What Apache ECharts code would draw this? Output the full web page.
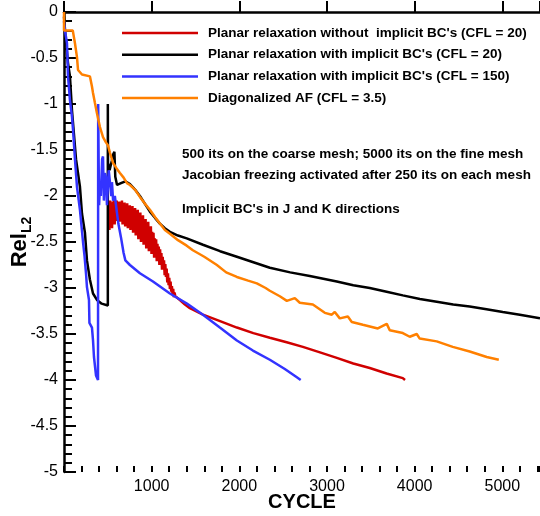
<!DOCTYPE html>
<html>
<head>
<meta charset="utf-8">
<script src="https://cdn.jsdelivr.net/npm/echarts@6/dist/echarts.min.js"></script>
<style>
html,body{margin:0;padding:0;background:#fff;}
#chart{width:540px;height:516px;}
</style>
</head>
<body>
<div id="chart"></div>
<script>
// ---- Data (cycle, log10 residual) ----
var seriesNames = [
  "Planar relaxation without  implicit BC's (CFL = 20)",
  "Planar relaxation with implicit BC's (CFL = 20)",
  "Planar relaxation with implicit BC's (CFL = 150)",
  "Diagonalized AF (CFL = 3.5)"
];

var redData = [
  [505,-2.3],[512,-2.15],[518,-2.37],[526,-2.05],[533,-2.3],[541,-2.12],[548,-2.35],[556,-2.06],
  [563,-2.25],[571,-2.04],[578,-2.31],[586,-2.09],[593,-2.2],[601,-2.05],[608,-2.27],[616,-2.07],
  [623,-2.18],[631,-2.06],[638,-2.28],[646,-2.1],[653,-2.2],[661,-2.05],[668,-2.31],[676,-2.11],
  [683,-2.24],[691,-2.07],[698,-2.33],[706,-2.12],[713,-2.26],[721,-2.08],[728,-2.35],[736,-2.14],
  [743,-2.28],[751,-2.1],[758,-2.37],[766,-2.15],[773,-2.3],[781,-2.11],[788,-2.4],[796,-2.17],
  [803,-2.34],[811,-2.13],[818,-2.43],[826,-2.19],[833,-2.38],[841,-2.15],[848,-2.47],[856,-2.22],
  [863,-2.42],[871,-2.18],[878,-2.5],[886,-2.24],[893,-2.45],[901,-2.21],[908,-2.53],[916,-2.27],
  [923,-2.5],[931,-2.25],[938,-2.57],[946,-2.3],[953,-2.52],[961,-2.28],[968,-2.6],[976,-2.34],
  [983,-2.56],[991,-2.33],[998,-2.63],[1006,-2.39],[1013,-2.6],[1021,-2.4],[1028,-2.67],[1036,-2.46],
  [1043,-2.64],[1051,-2.47],[1058,-2.71],[1066,-2.52],[1073,-2.68],[1081,-2.55],[1088,-2.75],[1096,-2.58],
  [1103,-2.73],[1111,-2.62],[1118,-2.8],[1126,-2.66],[1133,-2.79],[1141,-2.7],[1148,-2.86],[1156,-2.74],
  [1163,-2.88],[1171,-2.79],[1178,-2.94],[1186,-2.84],[1193,-2.97],[1201,-2.89],[1208,-3.01],[1216,-2.93],
  [1223,-3.04],[1231,-2.98],[1238,-3.07],[1246,-3.01],[1253,-3.1],[1261,-3.05],[1270,-3.09],
  [1322,-3.13],[1380,-3.18],[1436,-3.22],[1585,-3.29],[1780,-3.36],[1972,-3.43],[2160,-3.49],
  [2348,-3.54],[2540,-3.59],[2725,-3.64],[2920,-3.7],[3112,-3.76],[3300,-3.82],[3488,-3.87],
  [3680,-3.93],[3865,-3.98],[3890,-4.0]
];

var blackData = [
  [0,-0.05],[20,-0.3],[45,-0.55],[68,-0.7],[91,-1.07],[137,-1.6],[182,-1.9],[205,-2.19],
  [239,-2.4],[262,-2.7],[296,-2.91],[331,-3.06],[376,-3.13],[430,-3.17],[500,-3.19],
  [500,-1.0],[502,-1.64],[520,-1.72],[545,-1.62],[560,-1.55],[575,-1.52],[585,-1.79],[605,-1.88],
  [625,-1.9],[650,-1.86],[700,-1.84],[752,-1.87],[810,-1.93],[866,-2.0],[920,-2.08],[980,-2.17],
  [1040,-2.24],[1094,-2.3],[1150,-2.35],[1208,-2.39],[1300,-2.43],[1400,-2.46],[1585,-2.53],
  [1780,-2.6],[1972,-2.66],[2160,-2.72],[2348,-2.78],[2580,-2.83],[2804,-2.87],[3112,-2.93],
  [3300,-2.97],[3488,-3.0],[3680,-3.04],[3865,-3.08],[4060,-3.12],[4252,-3.15],[4440,-3.18],
  [4628,-3.2],[4820,-3.23],[5005,-3.26],[5200,-3.29],[5430,-3.33]
];

var blueData = [
  [0,-0.1],[11,-0.2],[34,-0.34],[46,-0.7],[68,-0.96],[91,-1.14],[103,-1.28],[125,-1.6],
  [148,-1.9],[182,-2.15],[217,-2.5],[235,-2.66],[251,-2.84],[262,-2.99],[285,-3.13],[290,-3.38],
  [319,-3.43],[331,-3.57],[342,-3.75],[365,-3.95],[388,-4.0],
  [390,-1.0],[395,-1.6],[400,-2.1],[410,-1.9],[420,-2.0],[435,-1.6],[445,-1.57],[455,-2.05],
  [467,-1.75],[480,-1.8],[490,-2.1],[510,-1.72],[525,-1.7],[540,-2.0],[547,-1.85],[560,-2.05],
  [580,-2.0],[600,-2.15],[620,-2.3],[650,-2.45],[680,-2.62],[700,-2.7],[752,-2.75],[866,-2.84],
  [1015,-2.93],[1208,-3.06],[1402,-3.17],[1585,-3.29],[1778,-3.43],[1972,-3.57],[2155,-3.68],
  [2348,-3.78],[2519,-3.88],[2656,-3.97],[2700,-4.0]
];

var orangeData = [
  [0,0],[0,-0.2],[100,-0.2],[125,-0.34],[148,-0.49],[160,-0.63],[205,-0.68],[296,-0.7],
  [319,-0.81],[331,-0.88],[353,-0.99],[376,-1.1],[410,-1.25],[445,-1.36],[480,-1.42],[502,-1.45],
  [524,-1.53],[559,-1.64],[600,-1.7],[638,-1.75],[680,-1.8],[718,-1.86],[752,-1.88],[809,-1.93],
  [866,-2.01],[920,-2.08],[980,-2.15],[1040,-2.23],[1094,-2.3],[1151,-2.37],[1208,-2.41],
  [1300,-2.48],[1400,-2.54],[1470,-2.59],[1600,-2.66],[1744,-2.75],[1850,-2.83],[1972,-2.88],
  [2100,-2.92],[2200,-2.95],[2300,-3.0],[2348,-3.03],[2462,-3.09],[2542,-3.14],[2633,-3.11],
  [2690,-3.16],[2839,-3.18],[2975,-3.27],[3055,-3.29],[3089,-3.26],[3146,-3.33],[3238,-3.31],
  [3283,-3.37],[3409,-3.4],[3580,-3.44],[3682,-3.39],[3716,-3.46],[3865,-3.49],[3944,-3.53],
  [4024,-3.5],[4058,-3.55],[4252,-3.58],[4435,-3.64],[4628,-3.69],[4822,-3.75],[4960,-3.78]
];

var xMajorTicks = [1000, 2000, 3000, 4000, 5000];
var annotations = [
  "500 its on the coarse mesh; 5000 its on the fine mesh",
  "Jacobian freezing activated after 250 its on each mesh",
  "Implicit BC's in J and K directions"
];
var colors = ['#d00000', '#000000', '#3333ff', '#ff8000'];

var FONT = '"Liberation Sans", Arial, sans-serif';
var chart = echarts.init(document.getElementById('chart'), null, {renderer: 'canvas'});

function lineSeries(i, data) {
  return {
    name: seriesNames[i], type: 'line', data: data, xAxisIndex: 0, yAxisIndex: 0,
    showSymbol: false, symbol: 'none', animation: false,
    lineStyle: {color: colors[i], width: 2.5}, itemStyle: {color: colors[i]}
  };
}

var option = {
  animation: false,
  backgroundColor: '#fff',
  grid: {left: 64, right: 0, top: 12, bottom: 44, containLabel: false, outerBoundsMode: 'none'},
  xAxis: [{
    type: 'value', min: 0, max: 5430, interval: 1000, position: 'bottom',
    name: 'CYCLE', nameLocation: 'middle', nameGap: 20, nameMoveOverlap: false,
    nameTextStyle: {fontSize: 20, fontWeight: 'bold', color: '#000', fontFamily: FONT},
    axisLine: {show: true, lineStyle: {color: '#000', width: 2.5}},
    axisTick: {show: true, inside: true, length: 11, lineStyle: {color: '#000', width: 2}},
    axisLabel: {
      margin: 7, color: '#000', fontSize: 16, fontFamily: FONT,
      formatter: function (v) { return xMajorTicks.indexOf(v) >= 0 ? String(v) : ''; }
    },
    splitLine: {show: false}
  }, {
    type: 'value', min: 0, max: 5430, interval: 200, position: 'bottom',
    axisLine: {show: false},
    axisTick: {show: true, inside: true, length: 6, lineStyle: {color: '#000', width: 2}},
    axisLabel: {show: false},
    splitLine: {show: false}
  }],
  yAxis: [{
    type: 'value', min: -5, max: 0, interval: 0.5,
    name: '{a|Rel}{b|L2}', nameLocation: 'middle', nameGap: 30, nameRotate: 90, nameMoveOverlap: false,
    nameTextStyle: {
      color: '#000', fontFamily: FONT,
      rich: {
        a: {fontSize: 22, fontWeight: 'bold', color: '#000', fontFamily: FONT, lineHeight: 28},
        b: {fontSize: 14, fontWeight: 'bold', color: '#000', fontFamily: FONT, verticalAlign: 'bottom', lineHeight: 16}
      }
    },
    axisLine: {show: true, lineStyle: {color: '#000', width: 2.5}},
    axisTick: {show: true, inside: true, length: 12, lineStyle: {color: '#000', width: 2}},
    minorTick: {show: true, splitNumber: 5, length: 8, lineStyle: {color: '#000', width: 2}},
    axisLabel: {margin: 6, color: '#000', fontSize: 16, fontFamily: FONT},
    splitLine: {show: false}
  }],
  legend: {
    orient: 'vertical', left: 122, top: 25, itemWidth: 76, itemHeight: 2.5, itemGap: 5.7,
    icon: 'rect', selectedMode: false, padding: 0,
    data: seriesNames,
    textStyle: {fontSize: 13.5, fontWeight: 'bold', color: '#000', fontFamily: FONT, lineHeight: 16, padding: [0, 0, 0, 5]}
  },
  graphic: [
    {type: 'text', x: 182, y: 154, silent: true, style: {text: annotations[0], font: 'bold 13.5px ' + FONT, fill: '#000', verticalAlign: 'middle'}},
    {type: 'text', x: 182, y: 175, silent: true, style: {text: annotations[1], font: 'bold 13.5px ' + FONT, fill: '#000', verticalAlign: 'middle'}},
    {type: 'text', x: 182, y: 209, silent: true, style: {text: annotations[2], font: 'bold 13.5px ' + FONT, fill: '#000', verticalAlign: 'middle'}}
  ],
  series: [
    lineSeries(0, redData),
    lineSeries(1, blackData),
    lineSeries(2, blueData),
    lineSeries(3, orangeData)
  ]
};
chart.setOption(option);
</script>
</body>
</html>
